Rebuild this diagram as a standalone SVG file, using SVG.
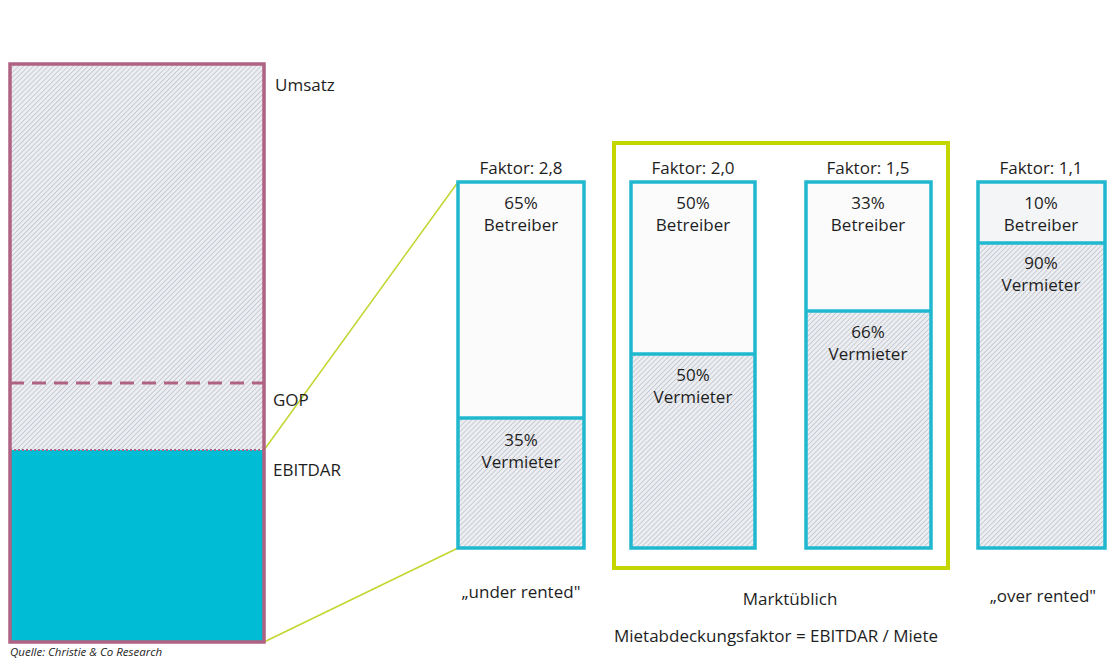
<svg xmlns="http://www.w3.org/2000/svg" width="1119" height="661" viewBox="0 0 1119 661">
<defs>
<pattern id="hatch" width="3.5" height="3.5" patternUnits="userSpaceOnUse" patternTransform="rotate(45)">
<rect width="3.5" height="3.5" fill="#eceef2"/>
<line x1="0" y1="0" x2="0" y2="3.5" stroke="#b2b7c0" stroke-width="1.2"/>
</pattern>
<style>
text{font-family:"Open Sans","Liberation Sans",sans-serif;font-size:17px;fill:#1e1e1e}
.c{text-anchor:middle}
.bar{fill:none;stroke:#1fb8cf;stroke-width:3.5}
.h{fill:url(#hatch)}
.w{fill:#fbfbfc}
.conn{stroke:#c2d62e;stroke-width:1.5;fill:none}
</style>
</defs>
<rect width="1119" height="661" fill="#ffffff"/>

<g id="connectors">
<line class="conn" x1="264" y1="450" x2="458" y2="182"/>
<line class="conn" x1="264" y1="642" x2="458" y2="548"/>
</g>

<g id="umsatz">
<rect x="10" y="64" width="254" height="386" class="h"/>
<rect x="10" y="450" width="254" height="192" fill="#00bcd5"/>
<line x1="10" y1="383" x2="264" y2="383" stroke="#b06283" stroke-width="3" stroke-dasharray="14,8"/>
<line x1="10" y1="450" x2="264" y2="450" stroke="#b06283" stroke-width="2" stroke-dasharray="2,2"/>
<rect x="10" y="64" width="254" height="578" fill="none" stroke="#b06283" stroke-width="3.5"/>
<text x="275" y="91">Umsatz</text>
<text x="273" y="406">GOP</text>
<text x="273" y="476">EBITDAR</text>
<text x="10" y="656" style="font-size:11.5px;font-style:italic">Quelle: Christie &amp; Co Research</text>
</g>

<g id="marktueblich">
<rect x="614" y="143" width="334" height="425" fill="none" stroke="#c4d600" stroke-width="4"/>
<text class="c" x="790" y="605">Marktüblich</text>
</g>

<g id="bar1">
<text class="c" x="521" y="174">Faktor: 2,8</text>
<rect x="458" y="182" width="126" height="236" class="w"/>
<rect x="458" y="418" width="126" height="130" class="h"/>
<rect x="458" y="182" width="126" height="366" class="bar"/>
<line x1="458" y1="418" x2="584" y2="418" stroke="#1fb8cf" stroke-width="3.5"/>
<text class="c" x="521" y="209">65%</text>
<text class="c" x="521" y="231">Betreiber</text>
<text class="c" x="521" y="446">35%</text>
<text class="c" x="521" y="468">Vermieter</text>
<text class="c" x="521" y="598">„under rented"</text>
</g>

<g id="bar2">
<text class="c" x="693" y="174">Faktor: 2,0</text>
<rect x="631" y="182" width="124" height="172" class="w"/>
<rect x="631" y="354" width="124" height="194" class="h"/>
<rect x="631" y="182" width="124" height="366" class="bar"/>
<line x1="631" y1="354" x2="755" y2="354" stroke="#1fb8cf" stroke-width="3.5"/>
<text class="c" x="693" y="209">50%</text>
<text class="c" x="693" y="231">Betreiber</text>
<text class="c" x="693" y="381">50%</text>
<text class="c" x="693" y="403">Vermieter</text>
</g>

<g id="bar3">
<text class="c" x="868" y="174">Faktor: 1,5</text>
<rect x="806" y="182" width="125" height="129" class="w"/>
<rect x="806" y="311" width="125" height="237" class="h"/>
<rect x="806" y="182" width="125" height="366" class="bar"/>
<line x1="806" y1="311" x2="931" y2="311" stroke="#1fb8cf" stroke-width="3.5"/>
<text class="c" x="868" y="209">33%</text>
<text class="c" x="868" y="231">Betreiber</text>
<text class="c" x="868" y="338">66%</text>
<text class="c" x="868" y="360">Vermieter</text>
</g>

<g id="bar4">
<text class="c" x="1041" y="174">Faktor: 1,1</text>
<rect x="978" y="182" width="127" height="61" fill="#f4f5f7"/>
<rect x="978" y="243" width="127" height="305" class="h"/>
<rect x="978" y="182" width="127" height="366" class="bar"/>
<line x1="978" y1="243" x2="1105" y2="243" stroke="#1fb8cf" stroke-width="3.5"/>
<text class="c" x="1041" y="209">10%</text>
<text class="c" x="1041" y="231">Betreiber</text>
<text class="c" x="1041" y="269">90%</text>
<text class="c" x="1041" y="291">Vermieter</text>
<text class="c" x="1043" y="602">„over rented"</text>
</g>

<text class="c" x="776" y="642">Mietabdeckungsfaktor = EBITDAR / Miete</text>
</svg>
